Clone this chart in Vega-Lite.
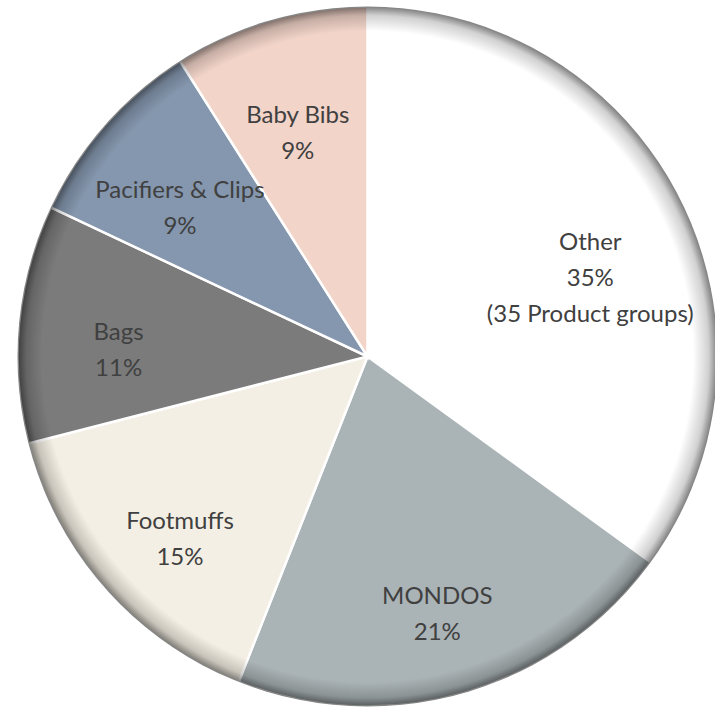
{
  "$schema": "https://vega.github.io/schema/vega-lite/v6.json",
  "autosize": "none",
  "width": 695,
  "height": 709,
  "padding": {"left": 20, "top": 2, "right": 0, "bottom": 0},
  "background": "#ffffff",
  "config": {"view": {"stroke": null}},
  "datasets": {
    "groups": [
      {"idx": 1, "group": "Other", "share": 35, "label": "Other\n35%\n(35 Product groups)"},
      {"idx": 2, "group": "MONDOS", "share": 21, "label": "MONDOS\n21%"},
      {"idx": 3, "group": "Footmuffs", "share": 15, "label": "Footmuffs\n15%"},
      {"idx": 4, "group": "Bags", "share": 11, "label": "Bags\n11%"},
      {"idx": 5, "group": "Pacifiers & Clips", "share": 9, "label": "Pacifiers & Clips\n9%"},
      {"idx": 6, "group": "Baby Bibs", "share": 9, "label": "Baby Bibs\n9%"}
    ],
    "whole": [{"v": 1}]
  },
  "layer": [
    {
      "data": {"name": "groups"},
      "mark": {"type": "arc", "radius": 350, "stroke": "#ffffff", "strokeWidth": 2.5},
      "encoding": {
        "theta": {"field": "share", "type": "quantitative", "stack": true},
        "order": {"field": "idx", "type": "quantitative"},
        "color": {
          "field": "group",
          "type": "nominal",
          "legend": null,
          "scale": {
            "domain": ["Other", "MONDOS", "Footmuffs", "Bags", "Pacifiers & Clips", "Baby Bibs"],
            "range": ["#ffffff", "#aab3b5", "#f4efe4", "#7b7b7b", "#8597ae", "#f2d4c9"]
          }
        }
      }
    },
    {
      "data": {"name": "whole"},
      "mark": {
        "type": "arc",
        "radius": 350,
        "color": {
          "gradient": "radial",
          "x1": 0.5, "y1": 0.5, "r1": 0,
          "x2": 0.5, "y2": 0.5, "r2": 0.5,
          "stops": [
            {"offset": 0, "color": "rgba(0,0,0,0)"},
            {"offset": 0.93, "color": "rgba(0,0,0,0)"},
            {"offset": 0.975, "color": "rgba(0,0,0,0.18)"},
            {"offset": 1, "color": "rgba(0,0,0,0.5)"}
          ]
        }
      },
      "encoding": {
        "theta": {"field": "v", "type": "quantitative"}
      }
    },
    {
      "data": {"name": "groups"},
      "mark": {
        "type": "text",
        "radius": 250,
        "font": "Lato",
        "fontSize": 24,
        "lineHeight": 36,
        "lineBreak": "\n",
        "color": "#404040",
        "align": "center",
        "baseline": "middle"
      },
      "encoding": {
        "theta": {"field": "share", "type": "quantitative", "stack": true},
        "order": {"field": "idx", "type": "quantitative"},
        "text": {"field": "label"}
      }
    }
  ],
  "resolve": {"scale": {"theta": "independent"}}
}
